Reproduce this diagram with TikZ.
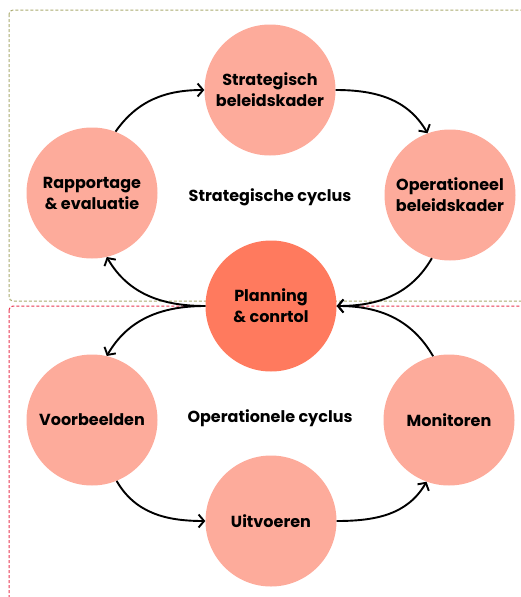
\documentclass[tikz,border=0pt]{standalone}
\usepackage{fontspec}
\setmainfont{Poppins}
\usetikzlibrary{arrows.meta}
\definecolor{circlight}{HTML}{FDAB9B}
\definecolor{circdark}{HTML}{FF7A5E}
\definecolor{boxgreen}{HTML}{A9AA6E}
\definecolor{boxred}{HTML}{E8344F}
\tikzset{
  stage/.style={circle, fill=circlight, minimum size=131pt, inner sep=0pt, align=center,
    font=\fontsize{16}{21}\selectfont\bfseries},
  hub/.style={stage, fill=circdark},
  cyclelabel/.style={font=\fontsize{16}{21}\selectfont\bfseries},
  flow/.style={line width=1.9pt, -{Straight Barb[length=5.5pt,width=13pt]}},
  zone/.style={dashed, dash pattern=on 3pt off 2pt, line width=1pt, rounded corners=4pt}
}
\begin{document}
\begin{tikzpicture}[x=1pt,y=-1pt]
\useasboundingbox (0,0) rectangle (521,597);
\draw[zone, boxgreen] (9,10) rectangle (560,301);
\draw[zone, boxred] (9,306) rectangle (560,640);

\node[stage] (S) at (270,90) {Strategisch\\beleidskader};
\node[stage] (R) at (92,193) {Rapportage\\\& evaluatie};
\node[stage] (O) at (450,195) {Operationeel\\beleidskader};
\node[hub] (P) at (271,306) {Planning\\\& conrtol};
\node[stage] (V) at (92,420) {Voorbeelden};
\node[stage] (M) at (449,420) {Monitoren};
\node[stage] (U) at (271,521) {Uitvoeren};

\node[cyclelabel] (SC) at (270,197) {Strategische cyclus};
\node[cyclelabel] (OC) at (270,418) {Operationele cyclus};

\draw[flow] (R.69) to[out=55,in=180] (S.west);
\draw[flow] (S.east) to[out=0,in=120] (O.110);
\draw[flow] (O.254) to[out=240,in=0] (P.east);
\draw[flow] (M.104) to[out=120,in=0] (P.east);
\draw[flow] (P.west) to[out=180,in=-60] (R.283);
\draw[flow] (P.west) to[out=180,in=60] (V.77);
\draw[flow] (V.292) to[out=-60,in=180] (U.west);
\draw[flow] (U.east) to[out=0,in=240] (M.250);
\end{tikzpicture}
\end{document}
